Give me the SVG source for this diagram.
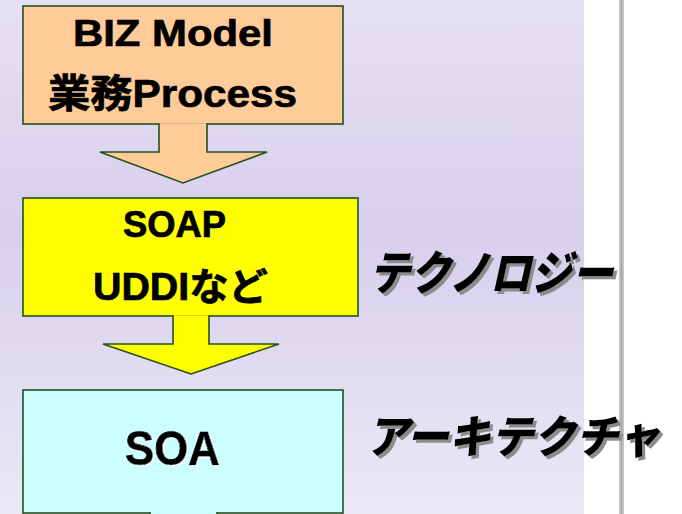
<svg xmlns="http://www.w3.org/2000/svg" width="682" height="514" viewBox="0 0 682 514">
  <defs>
    <linearGradient id="panelGrad" x1="0" y1="0" x2="0" y2="1">
      <stop offset="0" stop-color="#e6e0f4"/>
      <stop offset="0.45" stop-color="#d7cfec"/>
      <stop offset="1" stop-color="#ece8f6"/>
    </linearGradient>
    <!-- grey drop shadow for the italic side labels -->
    <filter id="greyShadow" filterUnits="userSpaceOnUse" x="340" y="220" width="342" height="260">
      <feOffset in="SourceAlpha" dx="3" dy="3" result="off"/>
      <feFlood flood-color="#8c8c8c"/>
      <feComposite in2="off" operator="in" result="shadow"/>
      <feMerge>
        <feMergeNode in="shadow"/>
        <feMergeNode in="SourceGraphic"/>
      </feMerge>
    </filter>
    <!-- thin white embossed edge -->
    <filter id="whiteShadow" x="-10%" y="-20%" width="125%" height="150%">
      <feOffset in="SourceAlpha" dx="1.2" dy="1.2" result="off"/>
      <feFlood flood-color="#ffffff"/>
      <feComposite in2="off" operator="in" result="shadow"/>
      <feMerge>
        <feMergeNode in="shadow"/>
        <feMergeNode in="SourceGraphic"/>
      </feMerge>
    </filter>
    <style>
      .shape { stroke: #24501f; stroke-width: 1.6; stroke-linejoin: miter; }
      .biz { fill: #ffcc99; }
      .tech { fill: #ffff00; }
      .soa { fill: #ccffff; }
      .box-text { font-family: "Liberation Sans", "Noto Sans CJK JP", sans-serif; font-weight: bold; fill: #000; stroke: #000; stroke-width: 0.7; }
      .label { font-family: "Noto Sans CJK JP", sans-serif; font-weight: 900; font-style: italic; fill: #000; }
    </style>
  </defs>

  <!-- page background -->
  <rect x="0" y="0" width="682" height="514" fill="#ffffff"/>
  <rect x="0" y="0" width="584" height="514" fill="url(#panelGrad)"/>

  <!-- vertical divider -->
  <rect x="619" y="0" width="5" height="514" fill="#c6c6c6"/>
  <rect x="620.5" y="0" width="2" height="514" fill="#a9a9a9"/>

  <!-- nodes -->
  <g id="node-biz">
    <rect class="shape biz" x="23" y="6" width="320" height="118"/>
    <text class="box-text" x="73" y="45.5" font-size="37" textLength="200" lengthAdjust="spacingAndGlyphs">BIZ Model</text>
    <text class="box-text" x="48" y="106.5" font-size="39" textLength="249" lengthAdjust="spacingAndGlyphs">業務Process</text>
  </g>

  <g id="node-tech">
    <rect class="shape tech" x="23" y="198" width="335" height="118"/>
    <text class="box-text" x="123" y="236.5" font-size="36" textLength="103" lengthAdjust="spacingAndGlyphs">SOAP</text>
    <text class="box-text" x="93" y="300" font-size="38" textLength="175" lengthAdjust="spacingAndGlyphs">UDDIなど</text>
  </g>

  <g id="node-soa">
    <rect class="shape soa" x="23" y="390" width="320" height="123"/>
    <text class="box-text" x="125" y="465" font-size="48" textLength="95" lengthAdjust="spacingAndGlyphs" filter="url(#whiteShadow)">SOA</text>
  </g>

  <!-- connectors: block arrows joined to the bottom of each box -->
  <g id="connectors">
    <path class="shape biz" d="M159,123.2 V152 H100 L183,183 L267,152 H207 V123.2"/>
    <path class="shape tech" d="M173,315.2 V344 H103 L191,374 L279,344 H209 V315.2"/>
    <path class="shape soa" d="M150,512.2 V530 M217,530 V512.2"/>
    <rect x="150.8" y="511" width="65.4" height="4" fill="#ccffff"/>
  </g>

  <!-- side labels -->
  <g id="label-technology">
    <text class="label" x="369" y="290" font-size="47" textLength="244" lengthAdjust="spacingAndGlyphs" filter="url(#greyShadow)">テクノロジー</text>
  </g>
  <g id="label-architecture">
    <text class="label" x="366" y="453" font-size="45" textLength="294" lengthAdjust="spacingAndGlyphs" filter="url(#greyShadow)">アーキテクチャ</text>
  </g>
</svg>
